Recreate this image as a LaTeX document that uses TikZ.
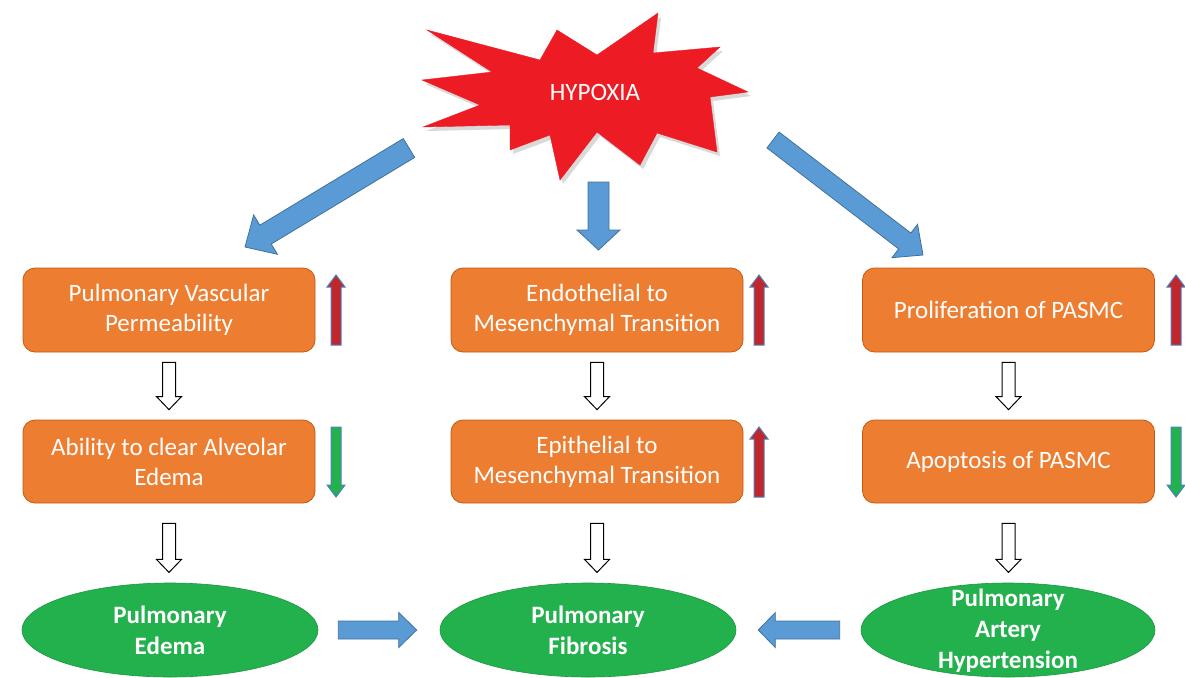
\documentclass[tikz,border=0pt]{standalone}
\usepackage{fontspec}
\setmainfont{Carlito}
\usetikzlibrary{calc,shapes.geometric}
\definecolor{arrblue}{HTML}{5B9BD5}
\definecolor{arrbord}{HTML}{41719C}
\definecolor{boxor}{HTML}{ED7D31}
\definecolor{boxbord}{HTML}{C55A11}
\definecolor{ellgreen}{HTML}{22B14C}
\definecolor{starred}{HTML}{ED1C24}
\definecolor{upred}{HTML}{C0272D}
\definecolor{thinbord}{HTML}{4F81BD}
% block arrow: [style]{from}{to}{shaft half width}{head half width}{head length}
\newcommand{\blockarrow}[6][]{%
  \coordinate (ba-h) at ($(#3)!#6!(#2)$);
  \draw[#1] ($(#2)!#4!90:(#3)$) -- ($(ba-h)!#4!90:(#3)$) -- ($(ba-h)!#5!90:(#3)$) -- (#3)
    -- ($(ba-h)!#5!-90:(#3)$) -- ($(ba-h)!#4!-90:(#3)$) -- ($(#2)!#4!-90:(#3)$) -- cycle;}
\tikzset{
  bigarrow/.style={fill=arrblue, draw=arrbord, line width=0.8pt, line join=miter},
  hollow/.style={fill=white, draw=black, line width=1pt, line join=miter},
  uparr/.style={fill=upred, draw=thinbord, line width=1pt, line join=miter},
  downarr/.style={fill=ellgreen, draw=thinbord, line width=1pt, line join=miter},
  box/.style={rectangle, rounded corners=12pt, fill=boxor, draw=boxbord, line width=0.8pt,
    minimum width=292pt, minimum height=84pt, text=white, align=center,
    font=\fontsize{25}{30}\selectfont},
  oval/.style={ellipse, fill=ellgreen, draw=ellgreen!85!black, line width=0.6pt,
    minimum width=296pt, minimum height=94pt, inner sep=0pt},
  ovaltext/.style={text=white, align=center, inner sep=0pt,
    font=\bfseries\fontsize{25}{31}\selectfont},
  starfill/.style={fill=starred, draw=starred, line join=miter}
}
\begin{document}
\begin{tikzpicture}[x=1pt,y=-1pt]
\useasboundingbox (0,0) rectangle (1185,677);
% starburst
\fill[black!25, opacity=0.6, shift={(3,4)}]
  (422,80) -- (492,72) -- (427,30) -- (540,60) -- (557,30) -- (597,55) -- (658,13) -- (653,53)
  -- (720,47) -- (697,68) -- (748,92) -- (710,97) -- (717,152) -- (657,133) -- (640,165)
  -- (597,132) -- (560,180) -- (550,135) -- (510,150) -- (510,125) -- (423,127) -- (480,105) -- cycle;
\draw[starfill]
  (422,80) -- (492,72) -- (427,30) -- (540,60) -- (557,30) -- (597,55) -- (658,13) -- (653,53)
  -- (720,47) -- (697,68) -- (748,92) -- (710,97) -- (717,152) -- (657,133) -- (640,165)
  -- (597,132) -- (560,180) -- (550,135) -- (510,150) -- (510,125) -- (423,127) -- (480,105) -- cycle;
\node[text=white, font=\fontsize{25}{30}\selectfont] (hyp) at (595,92) {HYPOXIA};

% boxes
\node[box] (b11) at (169,310) {Pulmonary Vascular\\Permeability};
\node[box, minimum height=83pt] (b12) at (169,461.5) {Ability to clear Alveolar\\Edema};
\node[box] (b21) at (597,310) {Endothelial to\\Mesenchymal Transition};
\node[box, minimum height=83pt] (b22) at (597,461.5) {Epithelial to\\Mesenchymal Transition};
\node[box] (b31) at (1008.5,310) {Proliferation of PASMC};
\node[box, minimum height=83pt] (b32) at (1008.5,461.5) {Apoptosis of PASMC};

% ellipses
\node[oval] (e1) at (170,630) {};
\node[ovaltext] (e1t) at (e1.center) {Pulmonary\\Edema};
\node[oval] (e2) at (588,630) {};
\node[ovaltext] (e2t) at (e2.center) {Pulmonary\\Fibrosis};
\node[oval, minimum width=294pt] (e3) at (1008,630) {};
\node[ovaltext] (e3t) at (1008,631) {Pulmonary\\Artery\\Hypertension};

% big arrows from hypoxia
\coordinate (la) at (409,148); \coordinate (lb) at (245,247);
\coordinate (ma) at (598.5,182); \coordinate (mb) at (598.5,250);
\coordinate (ra) at (773,140); \coordinate (rb) at (923,255);
\blockarrow[bigarrow]{la}{lb}{11pt}{23pt}{24pt}
\blockarrow[bigarrow]{ma}{mb}{10.5pt}{21.5pt}{20pt}
\blockarrow[bigarrow]{ra}{rb}{10pt}{21pt}{23pt}

% horizontal arrows into fibrosis
\coordinate (h1a) at ($(e1.east)+(20,0)$); \coordinate (h1b) at ($(e2.west)+(-23,0)$);
\coordinate (h2a) at ($(e3.west)+(-21,0)$); \coordinate (h2b) at ($(e2.east)+(22,0)$);
\blockarrow[bigarrow]{h1a}{h1b}{9pt}{17.5pt}{18pt}
\blockarrow[bigarrow]{h2a}{h2b}{9pt}{17.5pt}{17pt}

% hollow arrows
\foreach \c in {1,2,3}{
  \coordinate (s\c a) at ($(b\c1.south)+(0,10)$);
  \coordinate (s\c b) at ($(b\c2.north)+(0,-10)$);
  \coordinate (t\c a) at ($(b\c2.south)+(0,20)$);
  \coordinate (t\c b) at ($(b\c2.south)+(0,69)$);
}
\blockarrow[hollow]{s1a}{s1b}{6.5pt}{12.5pt}{13pt}
\blockarrow[hollow]{s2a}{s2b}{6.5pt}{12.5pt}{13pt}
\blockarrow[hollow]{s3a}{s3b}{6.5pt}{12.5pt}{13pt}
\blockarrow[hollow]{t1a}{t1b}{6.5pt}{12.5pt}{13pt}
\blockarrow[hollow]{t2a}{t2b}{6.5pt}{12.5pt}{13pt}
\blockarrow[hollow]{t3a}{t3b}{6.5pt}{12.5pt}{13pt}

% thin up/down arrows
\coordinate (u1a) at (336,345); \coordinate (u1b) at (336,275);
\coordinate (d1a) at (336,427); \coordinate (d1b) at (336,497);
\coordinate (u2a) at (759,345); \coordinate (u2b) at (759,275);
\coordinate (u3a) at (759,497); \coordinate (u3b) at (759,427);
\coordinate (u4a) at (1176,345); \coordinate (u4b) at (1176,275);
\coordinate (d2a) at (1176,427); \coordinate (d2b) at (1176,497);
\blockarrow[uparr]{u1a}{u1b}{5pt}{9pt}{12pt}
\blockarrow[downarr]{d1a}{d1b}{5pt}{9pt}{12pt}
\blockarrow[uparr]{u2a}{u2b}{5pt}{9pt}{12pt}
\blockarrow[uparr]{u3a}{u3b}{5pt}{9pt}{12pt}
\blockarrow[uparr]{u4a}{u4b}{5pt}{9pt}{12pt}
\blockarrow[downarr]{d2a}{d2b}{5pt}{9pt}{12pt}
\end{tikzpicture}
\end{document}
